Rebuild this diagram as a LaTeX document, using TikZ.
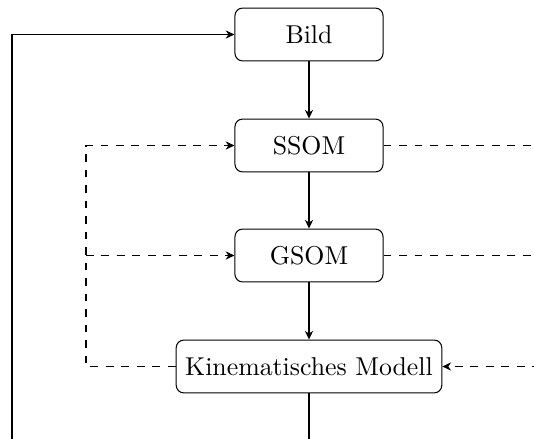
\documentclass[tikz,border=0pt]{standalone}
\usetikzlibrary{arrows.meta}
\begin{document}
\begin{tikzpicture}[x=0.3875pt,y=-0.3875pt,
  box/.style={draw, rounded corners=3pt, minimum width=57.4pt, minimum height=20.5pt, inner sep=3.5pt, line width=0.4pt},
  conn/.style={line width=0.4pt, -{Stealth[length=3.4pt,width=3.2pt,inset=1.1pt]}},
  plain/.style={line width=0.4pt}]
\useasboundingbox (0,0) rectangle (534,438);
\clip (0,0) rectangle (534,438);
\node[box] (bild) at (309,34.5) {Bild};
\node[box] (ssom) at (309,145.5) {SSOM};
\node[box] (gsom) at (309,255.5) {GSOM};
\node[box] (kin) at (309,366.5) {Kinematisches Modell};
\coordinate (bl) at (12,445);
\coordinate (bt) at (12,34.5);
\coordinate (kb) at (309,445);
\coordinate (dl1) at (86,145.5);
\coordinate (dl2) at (86,255.5);
\coordinate (dl3) at (86,366.5);
\coordinate (r1) at (540,145.5);
\coordinate (r2) at (540,255.5);
\coordinate (r3) at (540,366.5);
\draw[conn] (bild) -- (ssom);
\draw[conn] (ssom) -- (gsom);
\draw[conn] (gsom) -- (kin);
\draw[conn] (bl) -- (bt) -- (bild.west);
\draw[plain] (kin.south) -- (kb);
\draw[conn,dashed] (kin.west) -- (dl3) -- (dl1) -- (ssom.west);
\draw[conn,dashed] (dl2) -- (gsom.west);
\draw[plain,dashed] (ssom.east) -- (r1);
\draw[plain,dashed] (gsom.east) -- (r2);
\draw[conn,dashed] (r3) -- (kin.east);
\end{tikzpicture}
\end{document}
